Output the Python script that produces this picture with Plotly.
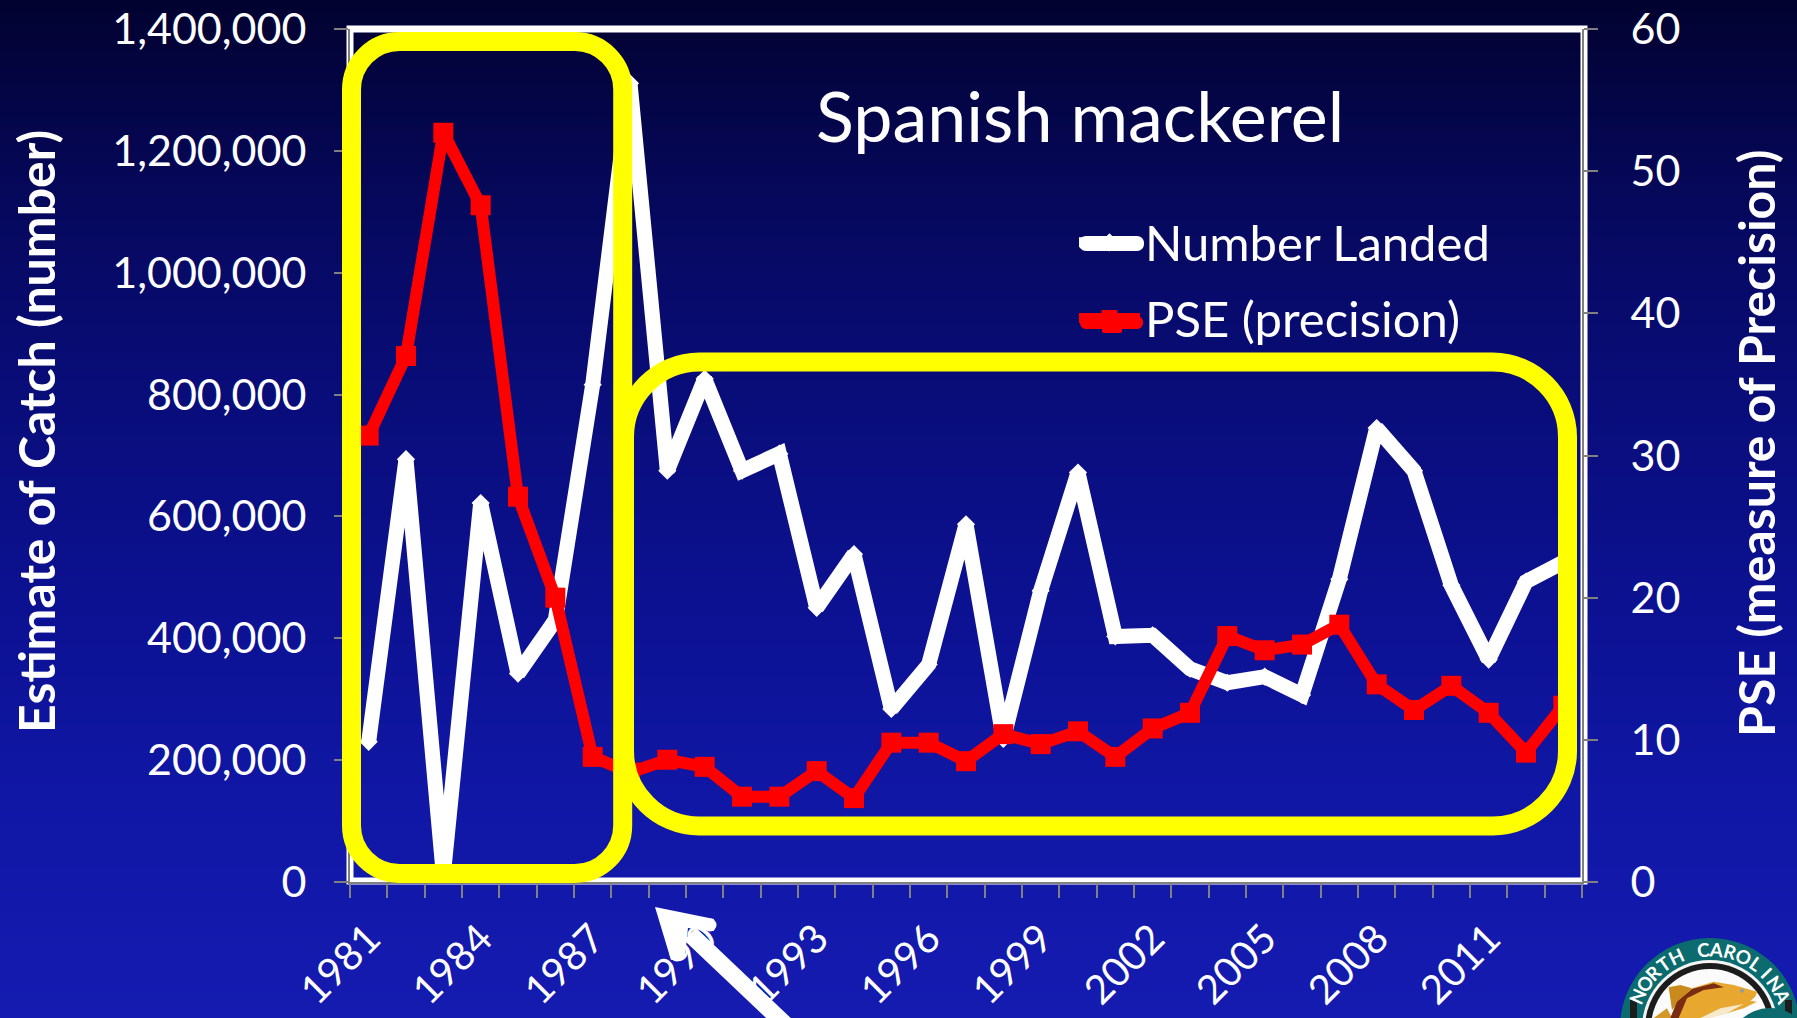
import base64, math, struct, zlib
import plotly.graph_objects as go

years = [str(y) for y in range(1981, 2014)]
number_landed = [230000, 694000, 12000, 622000, 342000, 430000, 816000, 1311000, 675000, 826000, 675000,
                 703000, 450000, 538000, 284000, 357000, 587000, 235000, 478000, 672000, 403000, 405000,
                 350000, 327000, 337000, 307000, 497000, 745000, 675000, 487000, 365000, 493000, 525000]
pse = [31.4, 37.0, 52.7, 47.6, 27.1, 20.0, 8.8, 7.7, 8.6, 8.1, 6.0, 6.0, 7.8, 5.9, 9.8, 9.8, 8.5, 10.4, 9.7,
       10.6, 8.8, 10.8, 11.9, 17.3, 16.3, 16.7, 18.1, 13.9, 12.1, 13.8, 11.9, 9.1, 12.4]

W, H = 1797, 1018
L, R, T, B = 350, 1582, 29, 882
FONT = "Lato"
GREY = "#808080"


def px(x):
    return (x - L) / (R - L)


def py(y):
    return (B - y) / (B - T)


def gradient_png():
    stops = [(0, (2, 2, 48)), (200, (6, 8, 92)), (400, (9, 13, 122)), (600, (12, 17, 145)),
             (800, (16, 23, 165)), (1018, (21, 27, 176))]
    raw = b""
    for y in range(H):
        for (a, ca), (b, cb) in zip(stops, stops[1:]):
            if a <= y <= b:
                t = (y - a) / (b - a)
                raw += b"\0" + bytes(int(round(p + (q - p) * t)) for p, q in zip(ca, cb))
                break

    def chunk(tag, data):
        return struct.pack(">I", len(data)) + tag + data + struct.pack(">I", zlib.crc32(tag + data))

    png = b"\x89PNG\r\n\x1a\n" + chunk(b"IHDR", struct.pack(">IIBBBBB", 1, H, 8, 2, 0, 0, 0))
    png += chunk(b"IDAT", zlib.compress(raw)) + chunk(b"IEND", b"")
    return "data:image/png;base64," + base64.b64encode(png).decode()


def path(points, close=True):
    s = "M" + " L".join(f"{px(x):.5f},{py(y):.5f}" for x, y in points)
    return s + (" Z" if close else "")


def rounded(x0, y0, x1, y1, r):
    k = r * 0.45
    c = lambda a, b, e, f, g, h: f" C{px(a):.5f},{py(b):.5f} {px(e):.5f},{py(f):.5f} {px(g):.5f},{py(h):.5f}"
    l = lambda a, b: f" L{px(a):.5f},{py(b):.5f}"
    return (f"M{px(x0 + r):.5f},{py(y0):.5f}" + l(x1 - r, y0) + c(x1 - k, y0, x1, y0 + k, x1, y0 + r)
            + l(x1, y1 - r) + c(x1, y1 - k, x1 - k, y1, x1 - r, y1)
            + l(x0 + r, y1) + c(x0 + k, y1, x0, y1 - k, x0, y1 - r)
            + l(x0, y0 + r) + c(x0, y0 + k, x0 + k, y0, x0 + r, y0) + " Z")


def circle(cx, cy, r, color, width=0, line="rgba(0,0,0,0)"):
    return dict(type="circle", xref="paper", yref="paper", x0=px(cx - r), x1=px(cx + r), y0=py(cy + r),
                y1=py(cy - r), fillcolor=color, line=dict(width=width, color=line), layer="above")


def filled(points, color):
    return dict(type="path", xref="paper", yref="paper", path=path(points), fillcolor=color,
                line=dict(width=0), layer="above")


def pill(x0, y0, x1, y1, r, color):
    return dict(type="path", xref="paper", yref="paper", path=rounded(x0, y0, x1, y1, r), fillcolor=color,
                line=dict(width=0), layer="above")


def z(points):
    return [(1617 + a / 3, 930 + b / 3) for a, b in points]


shapes = [
    dict(type="rect", xref="paper", yref="paper", x0=px(350), x1=px(1584), y0=py(881), y1=py(29),
         line=dict(color="white", width=7), layer="below"),
]
for p_, r_ in [((351.5, 41.5, 622.7, 873.5), 48), ((624.5, 362, 1567.5, 826), 75)]:
    shapes.append(dict(type="path", xref="paper", yref="paper", path=rounded(*p_, r_),
                       line=dict(color="#ffff00", width=19), fillcolor="rgba(0,0,0,0)", layer="above"))

# heavier legend keys under the legend's own samples
shapes += [
    pill(1079, 236, 1144, 251, 7, "white"),
    pill(1080, 316, 1143, 329, 6, "#ff0000"),
    pill(1102, 313, 1122, 333, 2, "#ff0000"),
]

# arrow
shapes += [
    dict(type="line", xref="paper", yref="paper", x0=px(690), y0=py(934), x1=px(810), y1=py(1048),
         line=dict(color="white", width=17), layer="above"),
    filled([(655, 907), (714, 919), (714, 931), (688, 928), (685, 957), (671, 960)], "white"),
    circle(710, 925, 6.5, "white"),
    circle(677, 954, 7.5, "white"),
]

# seal
CX, CY = 1710, 1028
shapes += [
    circle(CX, CY, 90, "#0b6b6e"),
    circle(CX, CY, 68, "#f4f4f4"),
    circle(CX, CY, 65, "#1c1c1c"),
    circle(CX, CY, 59, "#fbfbfb"),
    filled([(1630, 1018), (1630, 1000), (1637, 1000), (1637, 1018)], "#1c1c1c"),
    filled([(1785, 1018), (1785, 1000), (1792, 1000), (1792, 1018)], "#1c1c1c"),
    circle(1770, 1050, 42, "#0b6b6e"),
    filled(z([(155, 172), (190, 165), (225, 175), (200, 200), (165, 240)]), "#c98a1e"),
    filled(z([(110, 264), (150, 235), (165, 264)]), "#d39a2a"),
    filled(z([(160, 264), (180, 215), (225, 175), (290, 155), (350, 165), (420, 185), (415, 200), (400, 212),
              (420, 215), (380, 235), (330, 250), (270, 264)]), "#e8a72e"),
    filled(z([(160, 264), (180, 215), (225, 177), (290, 160), (320, 172), (260, 180), (210, 205), (185, 264)]), "#7a2d12"),
    filled(z([(250, 264), (310, 235), (380, 222), (330, 250), (280, 264)]), "#f6e9cc"),
    circle(1617 + 375 / 3, 930 + 182 / 3, 2, "#8d9aa0"),
]

annotations = [
    dict(text="Spanish mackerel", x=px(1080), y=py(115), font=dict(size=70, color="white", family=FONT)),
    dict(text="<b>Estimate of Catch (number)</b>", x=px(36), y=py(432), textangle=-90,
         font=dict(size=50, color="white", family=FONT)),
    dict(text="<b>PSE (measure of Precision)</b>", x=px(1756), y=py(444), textangle=-90,
         font=dict(size=50, color="white", family=FONT)),
]
seal_text = "NORTH CAROLINA"
for i, ch in enumerate(seal_text):
    if ch == " ":
        continue
    ang = -66 + i * 132 / (len(seal_text) - 1)
    a = math.radians(ang)
    annotations.append(dict(text=f"<b>{ch}</b>", x=px(CX + 79 * math.sin(a)), y=py(CY - 79 * math.cos(a)),
                            textangle=ang, font=dict(size=19, color="white", family=FONT)))
for an in annotations:
    an.update(xref="paper", yref="paper", showarrow=False, xanchor="center", yanchor="middle")

fig = go.Figure()
fig.add_trace(go.Scatter(x=years, y=number_landed, name="Number Landed", mode="lines+markers", yaxis="y",
                         line=dict(color="white", width=15), legendgroup="a",
                         marker=dict(symbol="diamond", size=14, color="white"), cliponaxis=False))
fig.add_trace(go.Scatter(x=years, y=pse, name="PSE (precision)", mode="lines+markers", yaxis="y2",
                         line=dict(color="#ff0000", width=12), legendgroup="b",
                         marker=dict(symbol="square", size=20, color="#ff0000"), cliponaxis=False))

axis_common = dict(showgrid=False, zeroline=False, showline=True, linecolor=GREY, linewidth=2, ticks="outside",
                   ticklen=14, tickwidth=2, tickcolor=GREY, color="white", automargin=False)
fig.update_layout(
    width=W, height=H, autosize=False,
    margin=dict(l=L, r=W - R, t=T, b=H - B, pad=0),
    paper_bgcolor="#0b1089", plot_bgcolor="rgba(0,0,0,0)",
    font=dict(family=FONT, color="white"),
    xaxis=dict(**axis_common, type="category", categoryorder="array", categoryarray=years, tickson="boundaries",
               dtick=1, ticklabelstep=3, tickangle=-45, tickfont=dict(size=40, family=FONT, color="white"),
               ticklabelstandoff=15, range=[-0.5, 32.5]),
    yaxis=dict(**axis_common, range=[0, 1400000], dtick=200000, tickformat=",d",
               tickfont=dict(size=43, family=FONT, color="white"), ticklabelstandoff=19),
    yaxis2=dict(**axis_common, range=[0, 60], dtick=10, overlaying="y", side="right",
                tickfont=dict(size=43, family=FONT, color="white"), ticklabelstandoff=24),
    legend=dict(x=px(1074), y=py(204), xanchor="left", yanchor="top", bgcolor="rgba(0,0,0,0)",
                font=dict(size=49, family=FONT, color="white"), itemwidth=61, tracegroupgap=9,
                traceorder="grouped", itemclick=False),
    images=[dict(source=gradient_png(), xref="paper", yref="paper", x=px(0), y=py(0), sizex=W / (R - L),
                 sizey=H / (B - T), sizing="stretch", xanchor="left", yanchor="top", layer="below")],
    shapes=shapes, annotations=annotations,
)
fig.write_html("out.html", config=dict(displayModeBar=False),
               post_script="document.body.style.margin='0';document.body.style.overflow='hidden';")
